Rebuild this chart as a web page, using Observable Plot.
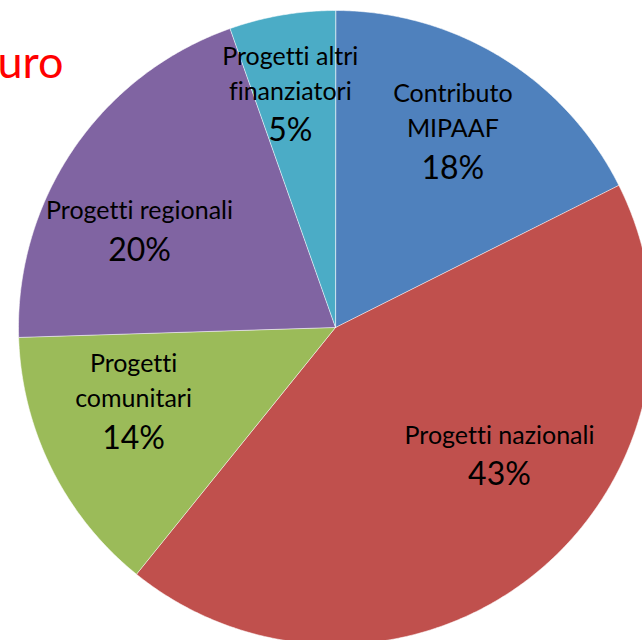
<!DOCTYPE html>
<html><head><meta charset="utf-8">
<script src="https://cdn.jsdelivr.net/npm/d3@7"></script>
<script src="https://cdn.jsdelivr.net/npm/@observablehq/plot@0.6"></script>
<style>body{margin:0;background:#fff;overflow:hidden} svg text{font-variant-ligatures:none;font-feature-settings:"liga" 0}</style>
</head><body><div id="chart"></div>
<script>
const categories = ["Contributo MIPAAF","Progetti nazionali","Progetti comunitari","Progetti regionali","Progetti altri finanziatori"];
const labelNames = ["Contributo\nMIPAAF","Progetti nazionali","Progetti\ncomunitari","Progetti regionali","Progetti altri\nfinanziatori"];
const shares = [17.6, 43.2, 13.7, 20.1, 5.4];
const percentLabels = ["18%","43%","14%","20%","5%"];
const colors = ["#4F81BD","#C0504D","#9BBB59","#8064A2","#4BACC6"];
const titleFragment = ["uro"];

// label layout (best-fit placement): angle nudge from slice mid-angle (deg) and radius fraction
const labelAngleNudge = [0, -15.8, 4.9, -5.5, -1.5];
const labelRadius = [0.705, 0.634, 0.685, 0.706, 0.733];

const total = d3.sum(shares);
const slices = [];
const labels = [];
let acc = 0;
categories.forEach((c, i) => {
  const a0 = acc / total * 2 * Math.PI;
  acc += shares[i];
  const a1 = acc / total * 2 * Math.PI;
  slices.push({cat: c, x: 0, y: 0});
  const n = Math.max(2, Math.ceil((a1 - a0) / (Math.PI / 360)));
  for (let k = 0; k <= n; k++) {
    const a = a0 + (a1 - a0) * k / n;
    slices.push({cat: c, x: Math.sin(a), y: Math.cos(a)});
  }
  const am = (a0 + a1) / 2 + labelAngleNudge[i] * Math.PI / 180, r = labelRadius[i];
  labels.push({name: labelNames[i], pct: percentLabels[i], x: r * Math.sin(am), y: r * Math.cos(am)});
});

const chart = Plot.plot({
  width: 642, height: 640,
  margin: 0,
  style: {fontFamily: "Lato, sans-serif", background: "#fff"},
  x: {domain: [-1, 1], range: [18, 652], axis: null},
  y: {domain: [-1, 1], range: [644, 10], axis: null},
  color: {domain: categories, range: colors},
  marks: [
    Plot.line(slices, {x: "x", y: "y", z: "cat", fill: "cat", stroke: "#fff", strokeOpacity: 0.55, strokeWidth: 1, curve: "linear-closed"}),
    Plot.text(labels, {x: "x", y: "y", text: "name", fontSize: 25, lineHeight: 1.4, lineAnchor: "bottom", fill: "#000"}),
    Plot.text(labels, {x: "x", y: "y", text: "pct", fontSize: 32, lineAnchor: "top", dy: 19, fill: "#000"}),
    Plot.text(titleFragment, {text: d => d, frameAnchor: "top-left", textAnchor: "start", lineAnchor: "bottom", dx: -3, dy: 77, fontSize: 45, fill: "#FF0000"})
  ]
});
document.getElementById("chart").append(chart);
</script>
</body></html>
